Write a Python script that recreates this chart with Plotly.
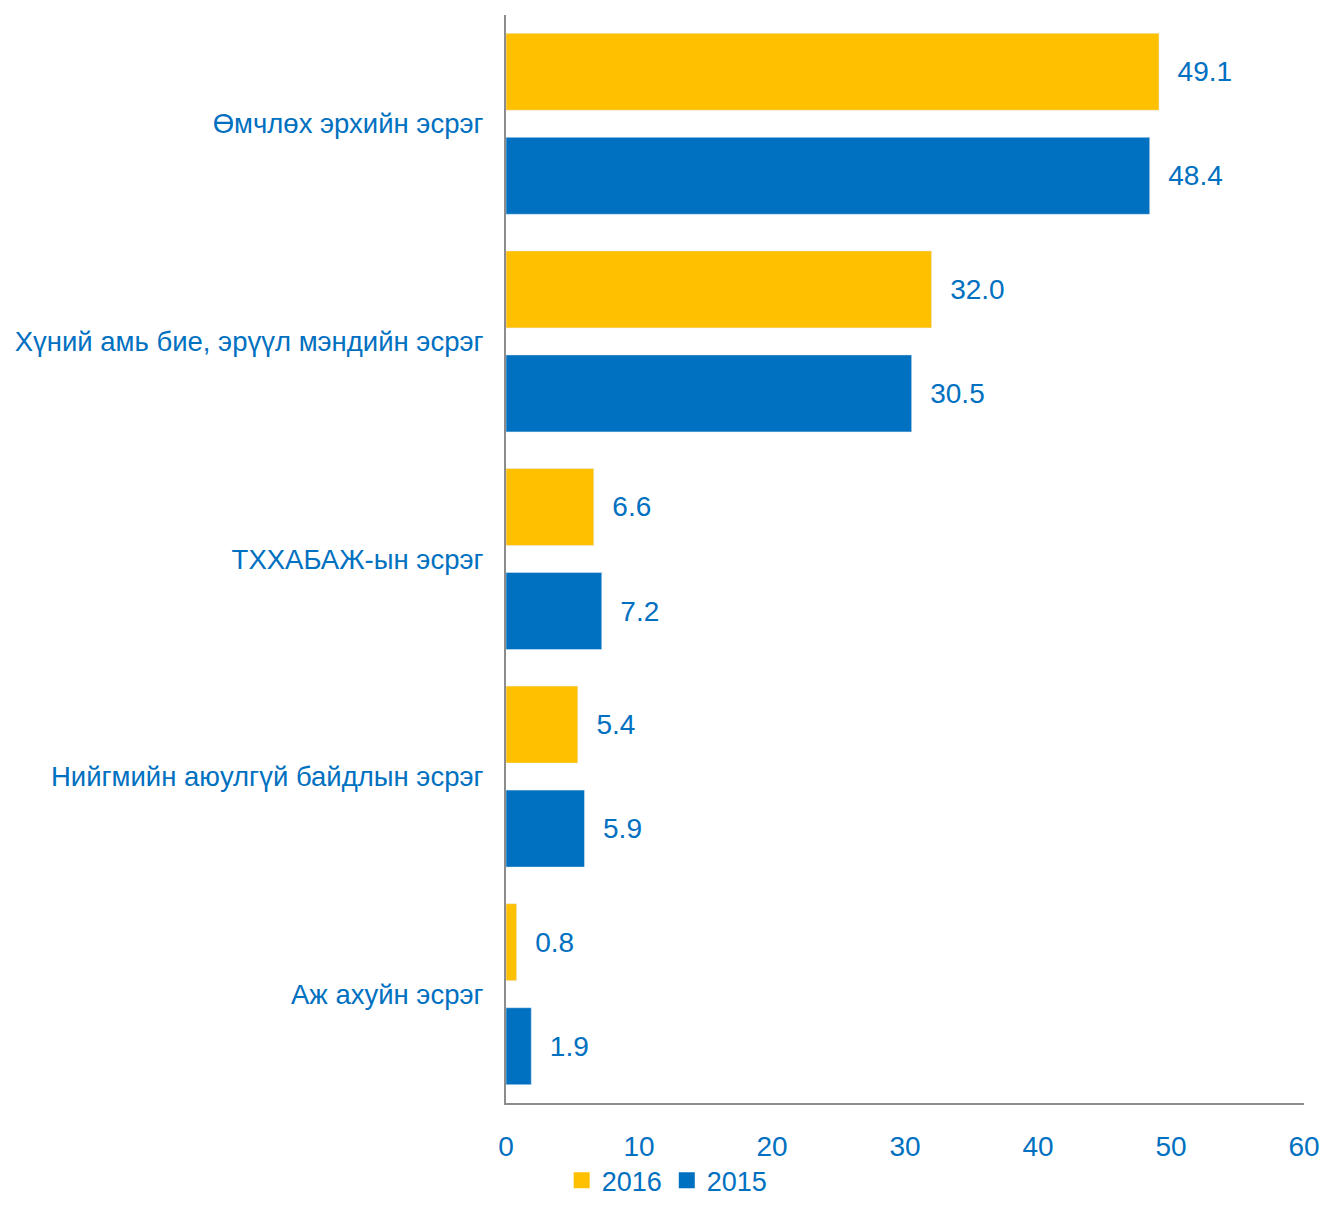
import plotly.graph_objects as go

categories = [
    "Өмчлөх эрхийн эсрэг",
    "Хүний амь бие, эрүүл мэндийн эсрэг",
    "ТХХАБАЖ-ын эсрэг",
    "Нийгмийн аюулгүй байдлын эсрэг",
    "Аж ахуйн эсрэг",
]
values_2016 = [49.1, 32.0, 6.6, 5.4, 0.8]
values_2015 = [48.4, 30.5, 7.2, 5.9, 1.9]
x_ticks = [0, 10, 20, 30, 40, 50, 60]
series_names = ["2016", "2015"]

BLUE = "#0070C0"
YELLOW = "#FFC000"
FONT = "Liberation Sans, Arial, sans-serif"
FS = 28

fig = go.Figure()
for name, vals, col in [(series_names[0], values_2016, YELLOW), (series_names[1], values_2015, BLUE)]:
    fig.add_trace(go.Bar(
        name=name, y=categories, x=vals, orientation="h",
        marker=dict(color=col), texttemplate="\u00a0\u00a0%{x:.1f}",
        textposition="outside", textfont=dict(color=BLUE, size=FS, family=FONT),
        cliponaxis=False, showlegend=False,
    ))
# legend entries with large square swatches
for name, col in [(series_names[0], YELLOW), (series_names[1], BLUE)]:
    fig.add_trace(go.Scatter(
        name=name, x=[None], y=[None], mode="markers",
        marker=dict(symbol="square", size=16, color=col), showlegend=True,
    ))

# page body has an 8px margin, so the figure is shifted by 8px
fig.update_layout(
    width=1312, height=1204,
    margin=dict(l=498, r=16, t=7, b=109),
    paper_bgcolor="white", plot_bgcolor="white",
    barmode="group", bargap=0.044, bargroupgap=0.26,
    font=dict(family=FONT, size=FS, color=BLUE),
    showlegend=True,
    legend=dict(orientation="h", x=0.202, xanchor="center", y=-0.094, yanchor="bottom",
                font=dict(size=27, color=BLUE), itemwidth=30,
                traceorder="normal", tracegroupgap=0),
)
fig.update_xaxes(
    range=[0, 60], tickvals=x_ticks, showgrid=False, zeroline=False,
    showline=True, linecolor="#8C8C8C", linewidth=2, automargin=False,
    ticklabeloverflow="allow",
    ticks="", ticklabelstandoff=17, tickfont=dict(size=FS, color=BLUE),
)
fig.update_yaxes(
    autorange="reversed", showgrid=False, zeroline=False, automargin=False,
    showline=True, linecolor="#8C8C8C", linewidth=2,
    ticks="", ticklabelstandoff=15, tickfont=dict(size=27.5, color=BLUE),
)

fig.write_html("out.html")
